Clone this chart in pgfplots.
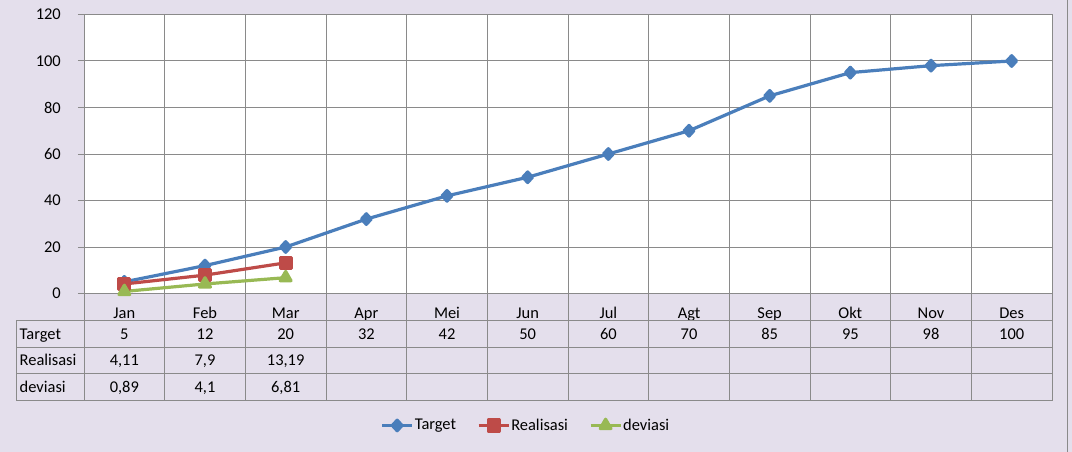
\documentclass[border=0pt]{standalone}
\usepackage{pgfplots}
\pgfplotsset{compat=1.18}
\usepackage{fontspec}
\setmainfont{Carlito}
\definecolor{bgc}{HTML}{E4DFEC}
\definecolor{gridc}{HTML}{8A8A8A}
\definecolor{tblue}{HTML}{4A7EBB}
\definecolor{tred}{HTML}{BE4B48}
\definecolor{tgreen}{HTML}{98B954}
\begin{document}
\begin{tikzpicture}[font=\fontsize{16.5}{19}\selectfont]
\fill[bgc] (-84bp,-158bp) rectangle (988bp,293bp);
\draw[gridc, line width=1bp] (983.5bp,-158bp) -- (983.5bp,293bp);
\begin{axis}[
  scale only axis, width=968bp, height=279bp,
  xmin=-0.5, xmax=11.5, ymin=0, ymax=120,
  xtick={0,...,11},
  xticklabels={Jan,Feb,Mar,Apr,Mei,Jun,Jul,Agt,Sep,Okt,Nov,Des},
  minor xtick={0.5,1.5,...,10.5},
  xminorgrids=true, xmajorgrids=false, ymajorgrids=true,
  ytick={0,20,...,120},
  /pgf/number format/assume math mode=true,
  tick align=outside, ytick pos=left, xtick pos=left,
  major tick length=6bp, minor tick length=0pt,
  xtick style={draw=none},
  ytick style={gridc, line width=1bp},
  axis line style={gridc, line width=1bp},
  grid style={gridc, line width=1bp},
  minor grid style={gridc, line width=1bp},
  axis background/.style={fill=white},
  yticklabel style={anchor=east, inner sep=0pt, xshift=-17bp, text=black},
  xticklabel style={anchor=base, inner sep=0pt, yshift=-18.5bp, text=black},
  clip=false,
  legend style={at={(0.456,-0.473)}, anchor=center, draw=none, fill=none,
    legend columns=3, /tikz/every even column/.append style={column sep=20bp},
    nodes={inner sep=1bp, text=black}},
  legend cell align=left,
  legend image code/.code={\draw[mark repeat=2,mark phase=2] plot coordinates {(0bp,0bp)(15bp,0bp)(30bp,0bp)};},
]
\addplot[tblue, line width=3.2bp, line join=round, mark=diamond*, mark size=5.3bp, mark options={solid, xscale=1.22}]
  coordinates {(0,5)(1,12)(2,20)(3,32)(4,42)(5,50)(6,60)(7,70)(8,85)(9,95)(10,98)(11,100)};
\addlegendentry{Target}
\addplot[tred, line width=3.2bp, line join=round, mark=square*, mark size=5.5bp, mark options={solid}]
  coordinates {(0,4.11)(1,7.9)(2,13.19)};
\addlegendentry{Realisasi}
\addplot[tgreen, line width=3.2bp, line join=round, mark=triangle*, mark size=6.2bp, mark options={solid}]
  coordinates {(0,0.89)(1,4.1)(2,6.81)};
\addlegendentry{deviasi}
\end{axis}
% data table
\foreach \k in {0,...,12} \draw[gridc, line width=1bp] ({\k*80.6667bp},0bp) -- ({\k*80.6667bp},-107bp);
\foreach \yy in {-27,-53.7,-80.3,-107} \draw[gridc, line width=1bp] (-67.5bp,\yy bp) -- (968bp,\yy bp);
\draw[gridc, line width=1bp] (-67.5bp,-27bp) -- (-67.5bp,-107bp);
\node[anchor=base west, inner sep=0pt] at (-64.5bp,-45.5bp) {Target};
\node[anchor=base west, inner sep=0pt] at (-64.5bp,-72bp) {Realisasi};
\node[anchor=base west, inner sep=0pt] at (-64.5bp,-98.7bp) {deviasi};
\foreach \v [count=\k from 0] in {5,12,20,32,42,50,60,70,85,95,98,100}
  \node[anchor=base, inner sep=0pt] at ({(\k+0.5)*80.6667bp},-45.5bp) {\v};
\foreach \v [count=\k from 0] in {{4,11},{7,9},{13,19}}
  \node[anchor=base, inner sep=0pt] at ({(\k+0.5)*80.6667bp},-72bp) {\v};
\foreach \v [count=\k from 0] in {{0,89},{4,1},{6,81}}
  \node[anchor=base, inner sep=0pt] at ({(\k+0.5)*80.6667bp},-98.7bp) {\v};
\end{tikzpicture}
\end{document}
